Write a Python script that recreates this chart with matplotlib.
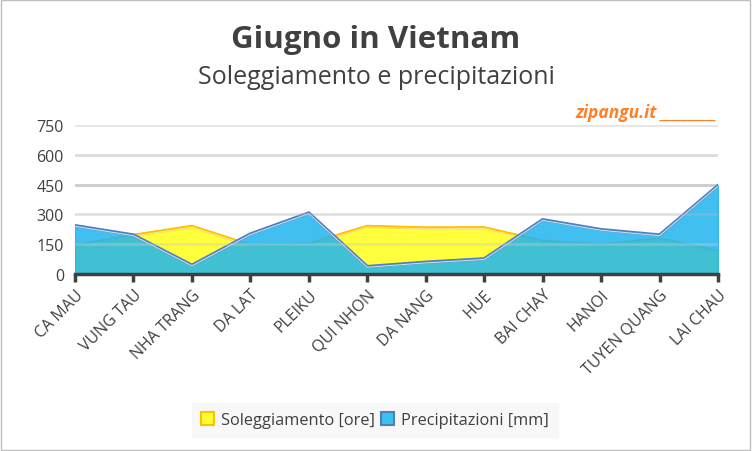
import matplotlib.pyplot as plt
import matplotlib.patheffects as pe
from matplotlib.patches import Patch, Rectangle

citta = ["CA MAU", "VUNG TAU", "NHA TRANG", "DA LAT", "PLEIKU", "QUI NHON",
         "DA NANG", "HUE", "BAI CHAY", "HANOI", "TUYEN QUANG", "LAI CHAU"]
sole = [143, 195, 240, 145, 151, 240, 232, 233, 165, 148, 177, 114]
pioggia = [244, 197, 45, 202, 308, 38, 60, 77, 274, 224, 197, 446]
yticks = [0, 150, 300, 450, 600, 750]

plt.rcParams['font.family'] = ['Open Sans', 'DejaVu Sans']

fig = plt.figure(figsize=(7.52, 4.52), dpi=100)
fig.patches.append(Rectangle((0.001, 0.002), 0.997, 0.995, transform=fig.transFigure,
                             fill=False, edgecolor='#bfbfbf', linewidth=1))

ax = fig.add_axes([75 / 752, 1 - 275 / 452, (718 - 75) / 752, (275 - 126) / 452])
x = list(range(len(citta)))

ax.fill_between(x, sole, color='#ffff33', alpha=0.95, zorder=2)
ax.plot(x, sole, color='#ffc000', linewidth=1.6, zorder=3,
        path_effects=[pe.Stroke(linewidth=2.2, foreground='#ffc000'), pe.Normal()])
ax.plot(x, [v - 4 for v in sole], color='white', linewidth=0.8, alpha=0.6, zorder=3)

ax.fill_between(x, pioggia, color='#1fb4ee', alpha=0.85, zorder=4)
ax.plot(x, pioggia, color='#4f7fbd', linewidth=2.2, zorder=5)
ax.plot(x, [v - 4 for v in pioggia], color='#e8f4fb', linewidth=0.8, alpha=0.8, zorder=5)

ax.set_xlim(0, len(citta) - 1)
ax.set_ylim(0, 750)
ax.set_yticks(yticks)
ax.set_yticklabels([str(v) for v in yticks], fontsize=11.5, color='#404040')
grid_cols = {150: '#c8c8c8', 300: '#b4b4b4', 450: '#cccccc', 600: '#dcdcdc', 750: '#e6e6e6'}
for v, c in grid_cols.items():
    ax.axhline(v, color=c, linewidth=2, zorder=1 if v > 300 else 6, alpha=1 if v > 300 else 0.4)
for s in ['top', 'right', 'left']:
    ax.spines[s].set_visible(False)
ax.spines['bottom'].set_color('#404040')
ax.spines['bottom'].set_linewidth(2.5)
ax.spines['bottom'].set_zorder(7)
ax.tick_params(axis='y', length=0, pad=8)
ax.tick_params(axis='x', length=6, width=2.5, color='#404040', pad=3)
ax.set_xticks(x)
ax.set_xticklabels(citta, rotation=45, ha='right', rotation_mode='anchor',
                   fontsize=11.5, color='#404040')

fig.text(0.5, 1 - 40 / 452, "Giugno in Vietnam", ha='center', va='center',
         fontsize=22.5, fontweight='bold', color='#404040')
fig.text(0.5, 1 - 78 / 452, "Soleggiamento e precipitazioni", ha='center', va='center',
         fontsize=18, color='#404040')
fig.text(575 / 752, 1 - 113 / 452, "zipangu.it ________", ha='left', va='center',
         fontsize=12.5, fontweight='bold', style='italic', color='#ff7f27')

handles = [Patch(facecolor='#ffff33', edgecolor='#ffc000', linewidth=1.5),
           Patch(facecolor='#3cc0f0', edgecolor='#4f7fbd', linewidth=1.5)]
leg = fig.legend(handles, ["Soleggiamento [ore]", "Precipitazioni [mm]"],
                 loc='center', bbox_to_anchor=(375 / 752, 1 - 421 / 452), ncol=2,
                 fontsize=11.8, frameon=True, handlelength=0.8, handleheight=0.8,
                 handletextpad=0.4, columnspacing=0.4, borderpad=0.55)
leg.get_frame().set_facecolor('#f7f7f7')
leg.get_frame().set_edgecolor('#f7f7f7')
leg.get_frame().set_boxstyle('square', pad=0)
for t in leg.get_texts():
    t.set_color('#404040')

fig.savefig('out.png', dpi=100)
